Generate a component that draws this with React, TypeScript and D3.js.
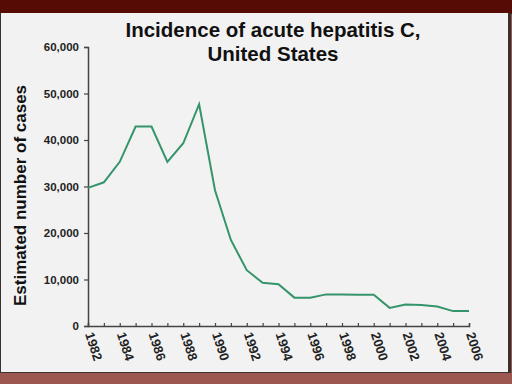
import React, { useRef, useEffect } from "react";
import * as d3 from "d3";

// Chart data
const years: number[] = [
  1982, 1983, 1984, 1985, 1986, 1987, 1988, 1989, 1990, 1991, 1992, 1993, 1994,
  1995, 1996, 1997, 1998, 1999, 2000, 2001, 2002, 2003, 2004, 2005, 2006,
];
const cases: number[] = [
  29700, 30900, 35300, 42900, 42900, 35300, 39300, 47700, 29200, 18500, 12000,
  9300, 9000, 6100, 6100, 6800, 6800, 6700, 6700, 3900, 4600, 4500, 4200, 3200,
  3200,
];
const yTicks: number[] = [0, 10000, 20000, 30000, 40000, 50000, 60000];
const xTickLabels: number[] = [1982, 1984, 1986, 1988, 1990, 1992, 1994, 1996, 1998, 2000, 2002, 2004, 2006];
const titleLines: string[] = ["Incidence of acute hepatitis C,", "United States"];
const yLabel = "Estimated number of cases";

export default function App() {
  const svgRef = useRef<SVGSVGElement>(null);

  useEffect(() => {
    const w = 512;
    const h = 384;
    const svg = d3.select(svgRef.current).attr("width", w).attr("height", h);
    svg.selectAll("*").remove();

    // slide background
    svg.append("rect").attr("width", w).attr("height", h).attr("fill", "#9c5850");
    svg.append("rect").attr("width", w).attr("height", 14).attr("fill", "#560b04");
    svg.append("rect").attr("x", 0).attr("y", 13).attr("width", 511).attr("height", 360).attr("fill", "#3a3030");
    svg.append("rect").attr("x", 1).attr("y", 13).attr("width", 507).attr("height", 359).attr("fill", "#f2f2f2");

    const font = "Arial, 'Liberation Sans', sans-serif";

    // title
    svg.append("g")
      .selectAll("text")
      .data(titleLines)
      .join("text")
      .attr("x", 273)
      .attr("y", (d, i) => 37 + i * 24)
      .attr("text-anchor", "middle")
      .attr("font-family", font)
      .attr("font-weight", "bold")
      .attr("font-size", 20.5)
      .attr("fill", "#111")
      .text((d) => d);

    const left = 88;
    const right = 469;
    const top = 47;
    const bottom = 326;

    const x = d3.scaleLinear().domain([1982, 2006]).range([left, right]);
    const y = d3.scaleLinear().domain([0, 60000]).range([bottom, top]);

    // y axis
    const yAxis = d3.axisLeft(y)
      .tickValues(yTicks)
      .tickSize(4)
      .tickFormat((d) => d3.format(",")(d as number));
    const gy = svg.append("g").attr("transform", `translate(${left},0)`).call(yAxis);
    gy.select(".domain").attr("stroke", "#444").attr("stroke-width", 1.5);
    gy.selectAll(".tick line").attr("stroke", "#444").attr("stroke-width", 1.2);
    gy.selectAll("text")
      .attr("font-family", font)
      .attr("font-size", 11.5)
      .attr("font-weight", "bold")
      .attr("fill", "#222")
      .attr("x", -9);

    // x axis
    const xAxis = d3.axisBottom(x)
      .tickValues(years)
      .tickSize(-3)
      .tickFormat(() => "");
    const gx = svg.append("g").attr("transform", `translate(0,${bottom})`).call(xAxis);
    gx.select(".domain").attr("stroke", "#444").attr("stroke-width", 1.5);
    gx.selectAll(".tick line").attr("stroke", "#444").attr("stroke-width", 1.2);

    svg.append("g")
      .selectAll("text")
      .data(xTickLabels)
      .join("text")
      .attr("transform", (d) => `translate(${x(d) - 3},${bottom + 8}) rotate(72)`)
      .attr("text-anchor", "start")
      .attr("font-family", font)
      .attr("font-size", 13)
      .attr("font-weight", "bold")
      .attr("fill", "#222")
      .text((d) => d);

    // y label
    svg.append("text")
      .attr("transform", `translate(26,${(top + bottom) / 2 + 9}) rotate(-90)`)
      .attr("text-anchor", "middle")
      .attr("font-family", font)
      .attr("font-size", 17)
      .attr("font-weight", "bold")
      .attr("fill", "#111")
      .text(yLabel);

    // line
    const line = d3.line<number>()
      .x((d, i) => x(years[i]))
      .y((d) => y(d));
    svg.append("path")
      .datum(cases)
      .attr("d", line)
      .attr("fill", "none")
      .attr("stroke", "#34946a")
      .attr("stroke-width", 2);
  }, []);

  return (
    <div>
      <svg ref={svgRef} style={{ position: "absolute", left: 0, top: 0 }}></svg>
    </div>
  );
}
